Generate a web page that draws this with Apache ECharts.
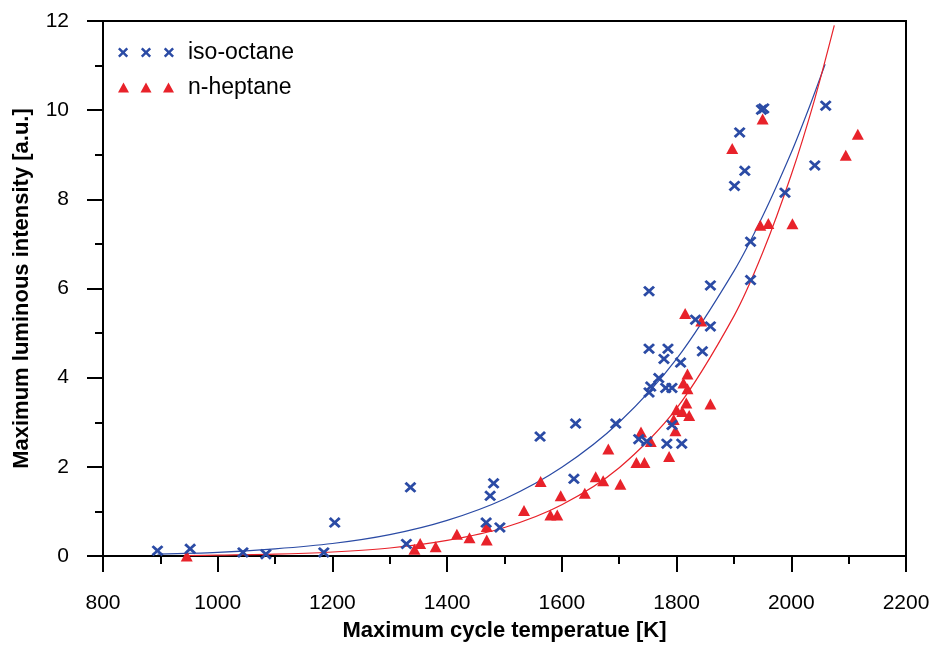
<!DOCTYPE html>
<html>
<head>
<meta charset="utf-8">
<script src="https://cdn.jsdelivr.net/npm/echarts@6/dist/echarts.min.js"></script>
<style>
html,body{margin:0;padding:0;background:#fff;}
#chart{width:937px;height:648px;}
</style>
</head>
<body>
<div id="chart"></div>
<script>
// ---- data ----
const isoOctane = [
  [895,0.12],[952,0.16],[1044,0.08],[1084,0.04],[1185,0.08],[1204,0.75],
  [1329,0.27],[1336,1.54],
  [1468,0.75],[1475,1.35],[1481,1.63],[1492,0.64],
  [1562,2.68],[1621,1.73],[1624,2.97],[1694,2.97],
  [1734,2.62],[1748,2.57],
  [1752,3.67],[1755,3.80],[1769,3.99],[1781,3.77],[1792,3.77],
  [1752,4.65],[1785,4.65],[1778,4.42],[1807,4.34],[1845,4.59],
  [1752,5.94],[1833,5.30],[1859,5.15],[1859,6.07],[1929,6.19],
  [1783,2.52],[1809,2.52],[1792,2.94],
  [1929,7.05],[1989,8.15],[1901,8.30],[1919,8.64],[2041,8.76],
  [1910,9.50],[1948,10.01],[1952,10.04],[2060,10.10]
];
const nHeptane = [
  [946,0.0],
  [1343,0.15],[1353,0.28],[1380,0.21],[1417,0.49],[1439,0.41],[1469,0.66],[1469,0.36],
  [1534,1.02],[1563,1.67],[1580,0.92],[1592,0.92],[1598,1.35],[1640,1.41],
  [1659,1.78],[1672,1.69],[1681,2.40],[1702,1.61],
  [1730,2.10],[1744,2.10],[1738,2.78],[1755,2.57],[1787,2.23],
  [1798,2.81],[1795,3.06],[1800,3.28],[1810,3.24],[1822,3.15],[1817,3.43],
  [1859,3.41],[1819,3.75],[1812,3.88],[1819,4.08],
  [1815,5.44],[1843,5.27],
  [1946,7.42],[1960,7.46],[2002,7.45],[1897,9.14],[1950,9.80],[2095,8.99],[2116,9.46]
];
// fitted curves, points
const isoOctaneFitT = [895,1000,1100,1200,1300,1400,1500,1600,1700,1800,1900,1950,2000,2030,2059];
const isoOctaneFitV = [0.04,0.08,0.16,0.28,0.48,0.80,1.28,1.99,3.00,4.42,6.39,7.62,9.05,10.02,11.03];
const nHeptaneFitT = [946,1000,1100,1200,1300,1400,1500,1600,1700,1800,1900,1950,2000,2040,2075];
const nHeptaneFitV = [0.01,0.02,0.04,0.09,0.18,0.35,0.64,1.15,1.98,3.31,5.38,6.80,8.55,10.21,11.90];
const xTicks = {min:800, max:2200, step:200};
const yTicks = {min:0, max:12, step:2};

const BLUE = '#2b4ba5';
const RED = '#e8222a';

function xPath(d, offsets){
  let p = '';
  offsets.forEach(o=>{
    const a=[[0,d],[d,0],[5,5-d],[10-d,0],[10,d],[5+d,5],[10,10-d],[10-d,10],[5,5+d],[d,10],[0,10-d],[5-d,5]];
    p += 'M' + a.map(q=>(q[0]+o)+','+q[1]).join('L') + 'Z';
  });
  return 'path://' + p;
}
function triPath(offsets){
  let p='';
  offsets.forEach(o=>{ p += 'M'+o+',10L'+(o+5.5)+',0L'+(o+11)+',10Z'; });
  return 'path://' + p;
}

const chart = echarts.init(document.getElementById('chart'), null, {renderer:'canvas'});
const FONT = 'Liberation Sans, Arial, sans-serif';
chart.setOption({
  animation:false,
  backgroundColor:'#fff',
  grid:{left:103, right:31, top:21, bottom:92, show:true, borderColor:'#000', borderWidth:2},
  legend:{
    orient:'vertical', left:118, top:41, padding:0, itemGap:12,
    itemWidth:56, itemHeight:11,
    textStyle:{fontFamily:FONT, fontSize:23, color:'#000', lineHeight:22, padding:[0,0,0,9]},
    data:[
      {name:'iso-octane', icon:xPath(1.7,[0,22.5,45]), itemStyle:{opacity:1}},
      {name:'n-heptane', icon:triPath([0,22.5,45]), itemStyle:{opacity:1}}
    ]
  },
  xAxis:{
    type:'value', min:xTicks.min, max:xTicks.max, interval:xTicks.step,
    name:'Maximum cycle temperatue [K]', nameLocation:'middle', nameGap:64,
    nameTextStyle:{fontFamily:FONT, fontSize:22, fontWeight:'bold', color:'#000'},
    axisLine:{onZero:false, lineStyle:{color:'#000', width:2}},
    axisTick:{show:true, inside:false, length:16, lineStyle:{color:'#000', width:2}},
    minorTick:{show:true, splitNumber:2, length:8, lineStyle:{color:'#000', width:2}},
    axisLabel:{margin:37, fontFamily:FONT, fontSize:21, color:'#000', formatter:v=>String(v)},
    splitLine:{show:false}
  },
  yAxis:{
    type:'value', min:yTicks.min, max:yTicks.max, interval:yTicks.step,
    name:'Maximum luminous intensity [a.u.]', nameLocation:'middle', nameGap:70,
    nameTextStyle:{fontFamily:FONT, fontSize:22, fontWeight:'bold', color:'#000'},
    axisLine:{onZero:false, lineStyle:{color:'#000', width:2}},
    axisTick:{show:true, inside:false, length:16, lineStyle:{color:'#000', width:2}},
    minorTick:{show:true, splitNumber:2, length:8, lineStyle:{color:'#000', width:2}},
    axisLabel:{margin:34, fontFamily:FONT, fontSize:21, color:'#000', formatter:v=>String(v)},
    splitLine:{show:false}
  },
  series:[
    {
      name:'iso-octane fit', type:'line', showSymbol:false, smooth:0.3, silent:true,
      data:isoOctaneFitT.map((t,i)=>[t, isoOctaneFitV[i]]),
      lineStyle:{color:BLUE, width:1.2}, z:1
    },
    {
      name:'n-heptane fit', type:'line', showSymbol:false, smooth:0.3, silent:true,
      data:nHeptaneFitT.map((t,i)=>[t, nHeptaneFitV[i]]),
      lineStyle:{color:RED, width:1.2}, z:1
    },
    {
      name:'iso-octane', type:'scatter', data:isoOctane,
      symbol:xPath(1.7,[0]), symbolSize:[12,11],
      itemStyle:{color:BLUE, opacity:1}, z:3
    },
    {
      name:'n-heptane', type:'scatter', data:nHeptane,
      symbol:'triangle', symbolSize:[12,11],
      itemStyle:{color:RED, opacity:1}, z:2
    }
  ]
});
</script>
</body>
</html>
